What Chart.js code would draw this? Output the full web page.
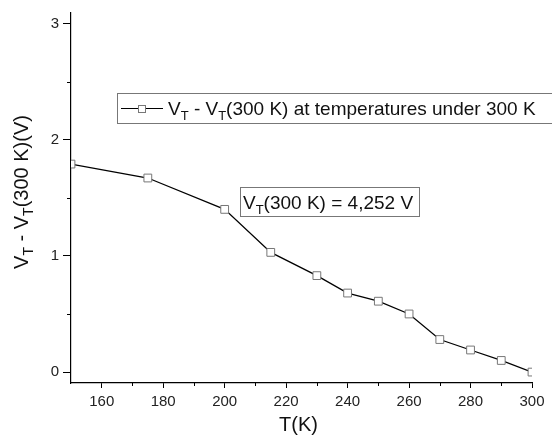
<!DOCTYPE html>
<html>
<head>
<meta charset="utf-8">
<script src="https://cdn.jsdelivr.net/npm/chart.js@4.4.1/dist/chart.umd.min.js"></script>
<style>
  html, body { margin: 0; padding: 0; background: #fff; }
  #wrap { width: 552px; height: 443px; position: relative; }
</style>
</head>
<body>
<div id="wrap"><canvas id="chart"></canvas></div>
<script>
// data
const temps = [150, 175, 200, 215, 230, 240, 250, 260, 270, 280, 290, 300];
const deltaVt = [1.79, 1.67, 1.40, 1.03, 0.83, 0.68, 0.61, 0.50, 0.28, 0.19, 0.10, 0.0];
const xTicks = [160, 180, 200, 220, 240, 260, 280, 300];
const xMinor = [170, 190, 210, 230, 250, 270, 290];
const yTicks = [0, 1, 2, 3];
const yMinor = [0.5, 1.5, 2.5];

const FONT = "'Liberation Sans', Arial, sans-serif";

// draws a run of text pieces, some of them as subscripts
function drawRich(ctx, parts, x, y, size) {
  let cx = x;
  parts.forEach(p => {
    const s = p.sub ? Math.round(size * 0.68) : size;
    ctx.font = s + "px " + FONT;
    ctx.fillText(p.t, cx, p.sub ? y + size * 0.27 : y);
    cx += ctx.measureText(p.t).width;
  });
  return cx - x;
}
function richWidth(ctx, parts, size) {
  let w = 0;
  parts.forEach(p => {
    ctx.font = (p.sub ? Math.round(size * 0.68) : size) + "px " + FONT;
    w += ctx.measureText(p.t).width;
  });
  return w;
}

const extras = {
  id: "extras",
  afterDraw(chart) {
    const ctx = chart.ctx;
    const xs = chart.scales.x, ys = chart.scales.y;
    const area = chart.chartArea;
    ctx.save();
    ctx.strokeStyle = "#000";
    ctx.lineWidth = 1;
    // minor ticks
    xMinor.forEach(v => {
      const px = Math.round(xs.getPixelForValue(v)) + 0.5;
      ctx.beginPath(); ctx.moveTo(px, area.bottom); ctx.lineTo(px, area.bottom + 3); ctx.stroke();
    });
    yMinor.forEach(v => {
      const py = Math.round(ys.getPixelForValue(v)) + 0.5;
      ctx.beginPath(); ctx.moveTo(area.left, py); ctx.lineTo(area.left - 4, py); ctx.stroke();
    });

    ctx.fillStyle = "#111";
    ctx.textBaseline = "alphabetic";
    ctx.textAlign = "left";

    // x title
    ctx.font = "20px " + FONT;
    const xt = "T(K)";
    ctx.fillText(xt, 279, 431);

    // y title, rotated
    const yParts = [{t: "V"}, {t: "T", sub: true}, {t: " - V"}, {t: "T", sub: true}, {t: "(300 K)(V)"}];
    const yw = richWidth(ctx, yParts, 20);
    ctx.save();
    ctx.translate(28, 192 + yw / 2);
    ctx.rotate(-Math.PI / 2);
    drawRich(ctx, yParts, 0, 0, 20);
    ctx.restore();

    // legend box
    ctx.strokeStyle = "#777";
    ctx.lineWidth = 1;
    ctx.fillStyle = "#fff";
    ctx.fillRect(117.5, 93.5, 450, 30);
    ctx.strokeRect(117.5, 93.5, 450, 30);
    ctx.strokeStyle = "#000";
    ctx.lineWidth = 1.2;
    ctx.beginPath(); ctx.moveTo(121, 108.5); ctx.lineTo(163, 108.5); ctx.stroke();
    ctx.fillStyle = "#fff";
    ctx.fillRect(138.5, 105, 7, 7);
    ctx.strokeStyle = "#777";
    ctx.lineWidth = 1;
    ctx.strokeRect(138.5, 105.5, 7, 7);
    ctx.fillStyle = "#111";
    drawRich(ctx, [{t: "V"}, {t: "T", sub: true}, {t: " - V"}, {t: "T", sub: true},
      {t: "(300 K) at temperatures under 300 K"}], 168, 115, 19);

    // annotation box
    ctx.strokeStyle = "#777";
    ctx.fillStyle = "#fff";
    ctx.fillRect(240.5, 187.5, 179, 29);
    ctx.strokeRect(240.5, 187.5, 179, 29);
    ctx.fillStyle = "#111";
    drawRich(ctx, [{t: "V"}, {t: "T", sub: true}, {t: "(300 K) = 4,252 V"}], 243, 209, 19);
    ctx.restore();
  }
};

new Chart(document.getElementById("chart").getContext("2d"), {
  type: "line",
  data: {
    datasets: [{
      label: "VT - VT(300 K)",
      data: temps.map((t, i) => ({x: t, y: deltaVt[i]})),
      borderColor: "#000",
      borderWidth: 1.3,
      pointStyle: "rect",
      pointRadius: 5.5,
      pointBorderColor: "#777",
      pointBackgroundColor: "#fff",
      pointBorderWidth: 1,
      tension: 0
    }]
  },
  options: {
    responsive: true,
    maintainAspectRatio: false,
    animation: false,
    layout: { padding: { top: 12, right: 20, left: 0, bottom: 0 } },
    plugins: { legend: { display: false }, tooltip: { enabled: false } },
    scales: {
      x: {
        type: "linear",
        min: 150,
        max: 300,
        afterBuildTicks: s => { s.ticks = xTicks.map(v => ({value: v})); },
        afterFit: s => { s.height = 60; },
        grid: { drawOnChartArea: false, drawTicks: true, tickLength: 5, color: "#000" },
        border: { display: true, color: "#000", width: 1.2 },
        ticks: { color: "#222", font: { family: FONT, size: 15 }, padding: 5, maxRotation: 0 }
      },
      y: {
        min: -0.094,
        max: 3.09,
        afterBuildTicks: s => { s.ticks = yTicks.map(v => ({value: v})); },
        afterFit: s => { s.width = 71; },
        grid: { drawOnChartArea: false, drawTicks: true, tickLength: 8, color: "#000" },
        border: { display: true, color: "#000", width: 1.2 },
        ticks: { color: "#222", font: { family: FONT, size: 15 }, padding: 4 }
      }
    }
  },
  plugins: [extras]
});
</script>
</body>
</html>
